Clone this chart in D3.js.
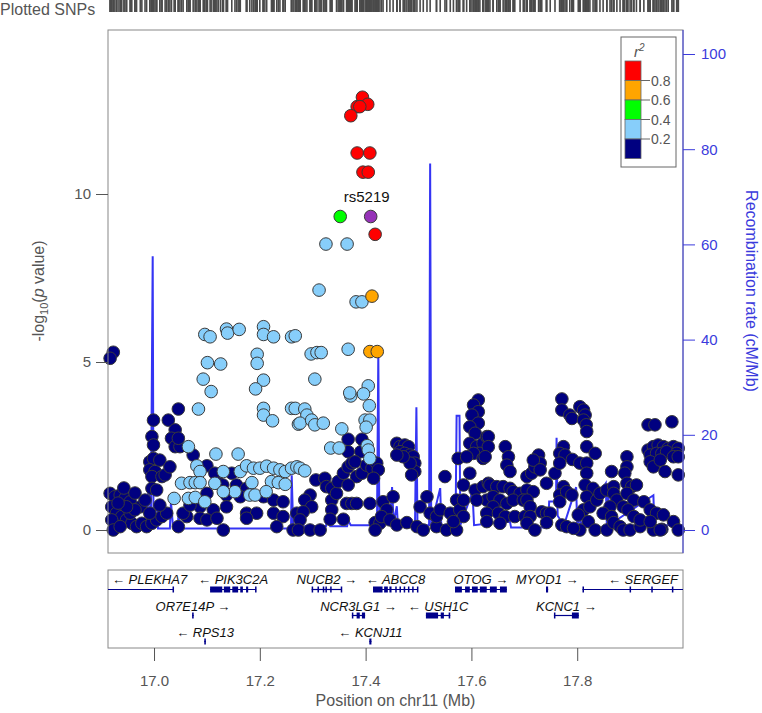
<!DOCTYPE html>
<html>
<head>
<meta charset="utf-8">
<script src="https://cdn.jsdelivr.net/npm/d3@7"></script>
<style>
  body { margin: 0; background: #fff; }
  text { font-family: "Liberation Sans", Arial, sans-serif; }
</style>
</head>
<body>
<svg id="chart" width="762" height="713"></svg>
<script>
// SNPs as [position (Mb), -log10 p], grouped by r2 bin
const snpsIndex = [[17.4096, 9.33]];
const snpsR2_08 = [
  [17.394, 12.88], [17.404, 12.67], [17.384, 12.60], [17.389, 12.60], [17.372, 12.33],
  [17.384, 11.22], [17.408, 11.22], [17.395, 10.65], [17.405, 10.65], [17.418, 8.80]
];
const snpsR2_06 = [[17.412, 6.96], [17.408, 5.31], [17.422, 5.31]];
const snpsR2_04 = [[17.352, 9.33]];
const snpsR2_02 = [
  [17.096, 5.82], [17.106, 5.75], [17.137, 5.98], [17.139, 5.86], [17.161, 5.97],
  [17.207, 6.05], [17.207, 5.82], [17.226, 5.75], [17.260, 5.75], [17.267, 5.78],
  [17.101, 4.98], [17.126, 4.94], [17.195, 5.23], [17.195, 4.96], [17.093, 4.49],
  [17.108, 4.12], [17.207, 4.46], [17.192, 4.20], [17.084, 3.60], [17.207, 3.62],
  [17.207, 3.42], [17.224, 3.25], [17.260, 3.62], [17.267, 3.62], [17.273, 3.15],
  [17.065, 2.48], [17.117, 2.26], [17.159, 2.26], [17.081, 1.91], [17.087, 1.74],
  [17.131, 1.74], [17.163, 1.74], [17.175, 1.91], [17.188, 1.84], [17.200, 1.84],
  [17.213, 1.90], [17.226, 1.84], [17.238, 1.79], [17.248, 1.74], [17.260, 1.84],
  [17.270, 1.88], [17.052, 1.39], [17.068, 1.41], [17.078, 1.41], [17.087, 1.41],
  [17.115, 1.39], [17.153, 1.14], [17.185, 1.41], [17.222, 1.44], [17.235, 1.41],
  [17.248, 1.36], [17.038, 0.94], [17.065, 0.94], [17.078, 0.97], [17.096, 0.84],
  [17.131, 1.14], [17.181, 1.04], [17.191, 1.04], [17.212, 1.14],
  [17.382, 6.79], [17.393, 6.79], [17.297, 5.24], [17.308, 5.28], [17.316, 5.28],
  [17.367, 5.38], [17.304, 4.49], [17.405, 4.29], [17.396, 4.05], [17.372, 3.99],
  [17.370, 4.08], [17.407, 3.70], [17.285, 3.60], [17.289, 3.42], [17.276, 3.18],
  [17.298, 3.27], [17.304, 3.13], [17.320, 3.18], [17.399, 3.27], [17.408, 3.27],
  [17.401, 3.06], [17.355, 3.01], [17.403, 2.51], [17.334, 2.44], [17.350, 2.44],
  [17.405, 2.38], [17.408, 2.13], [17.276, 1.84], [17.285, 1.76],
  [17.325, 8.51], [17.365, 8.51], [17.312, 7.14]
];
const snpsR2_00 = [
  [16.923, 5.29], [16.917, 5.11],
  [16.917, 1.09], [16.926, 0.99], [16.936, 1.04], [16.945, 0.94], [16.955, 0.84],
  [16.974, 0.69], [16.920, 0.69], [16.929, 0.50], [16.939, 0.40], [16.948, 0.30],
  [16.958, 0.20], [16.967, 0.10], [16.977, 0.20], [16.986, 0.10], [16.996, 0.20],
  [17.005, 0.30], [17.015, 0.40], [17.024, 0.50], [16.920, 0.30], [16.923, 0.00],
  [16.936, 0.10], [16.955, 0.50], [16.964, 0.60], [16.948, 0.69], [16.992, 0.50],
  [16.932, 0.80], [16.983, 0.89], [17.011, 0.74], [16.943, 1.25], [16.964, 1.10],
  [16.999, 3.27], [16.996, 2.78], [16.999, 2.53], [16.992, 2.03], [16.999, 2.13],
  [16.992, 1.79], [17.002, 1.74], [16.996, 1.59], [16.996, 1.24], [17.005, 1.19],
  [17.011, 2.08], [17.015, 1.59], [17.021, 1.64], [17.030, 1.88], [17.027, 3.27],
  [17.040, 2.98], [17.033, 2.73], [17.040, 2.48], [17.049, 2.48], [17.046, 2.73],
  [17.046, 3.60], [17.074, 2.23], [17.100, 1.91], [17.115, 1.69], [17.147, 1.69],
  [17.100, 1.09], [17.122, 1.39], [17.130, 1.34], [17.156, 1.34], [17.175, 1.24],
  [17.137, 1.04], [17.163, 0.99], [17.207, 0.99], [17.226, 0.89], [17.244, 0.84],
  [17.087, 0.69], [17.112, 0.60], [17.137, 0.69], [17.175, 0.50], [17.194, 0.50],
  [17.226, 0.50], [17.244, 0.40], [17.270, 0.50], [17.062, 0.40], [17.087, 0.35],
  [17.100, 0.30], [17.119, 0.35], [17.175, 0.35], [17.046, 0.10], [17.131, 0.00],
  [17.232, 0.10], [17.263, 0.00], [17.055, 0.50], [17.068, 0.74],
  [17.367, 2.70], [17.367, 2.33], [17.393, 2.70], [17.391, 2.33], [17.306, 1.49],
  [17.323, 1.54], [17.326, 1.29], [17.336, 1.24], [17.336, 0.89], [17.336, 0.60],
  [17.333, 0.32], [17.345, 1.09], [17.348, 1.44], [17.358, 1.69], [17.367, 1.88],
  [17.374, 1.99], [17.380, 2.03], [17.383, 1.59], [17.393, 1.69], [17.402, 1.93],
  [17.412, 1.84], [17.421, 1.99], [17.424, 1.79], [17.415, 1.54], [17.367, 1.34],
  [17.364, 0.79], [17.374, 0.79], [17.383, 0.79], [17.408, 0.79], [17.358, 0.32],
  [17.295, 1.04], [17.285, 0.89], [17.298, 0.69], [17.282, 0.54], [17.276, 0.30],
  [17.273, 0.00], [17.295, 0.00], [17.314, 0.00], [17.418, 0.22], [17.427, 0.20],
  [17.418, 0.00], [17.433, 0.84], [17.440, 0.60], [17.430, 0.40], [17.452, 0.99],
  [17.446, 0.30], [17.459, 0.15], [17.478, 0.22], [17.497, 0.10], [17.509, 0.00],
  [17.534, 0.10], [17.553, 0.00], [17.572, 0.00], [17.503, 0.69], [17.516, 0.99],
  [17.522, 0.50], [17.534, 0.40], [17.541, 0.60], [17.560, 0.50], [17.572, 0.89],
  [17.578, 0.60], [17.585, 0.40], [17.566, 0.25],
  [17.459, 2.58], [17.465, 2.48], [17.474, 2.53], [17.481, 2.48], [17.465, 2.33],
  [17.474, 2.28], [17.484, 2.23], [17.490, 2.18], [17.493, 1.99], [17.493, 1.74],
  [17.484, 1.99], [17.471, 2.18], [17.459, 2.23], [17.487, 1.64], [17.550, 1.59],
  [17.575, 2.13],
  [17.613, 3.87], [17.604, 3.72], [17.613, 3.52], [17.601, 3.42], [17.613, 3.18],
  [17.597, 3.07], [17.607, 2.88], [17.597, 2.58], [17.610, 2.48], [17.622, 2.58],
  [17.629, 2.78], [17.616, 2.28], [17.604, 2.28], [17.622, 2.13], [17.591, 2.18],
  [17.597, 1.69], [17.585, 1.34], [17.607, 1.19], [17.622, 1.29], [17.629, 0.89],
  [17.610, 0.89], [17.585, 0.89], [17.632, 1.39],
  [17.632, 2.78], [17.632, 2.48], [17.626, 2.18], [17.664, 2.48], [17.670, 2.18],
  [17.667, 1.93], [17.673, 1.74], [17.635, 1.34], [17.648, 1.29], [17.660, 1.29],
  [17.673, 1.24], [17.679, 1.14], [17.692, 1.09], [17.705, 1.19], [17.717, 1.14],
  [17.641, 0.99], [17.654, 0.89], [17.667, 0.79], [17.679, 0.89], [17.698, 0.89],
  [17.641, 0.69], [17.629, 0.50], [17.651, 0.50], [17.664, 0.40], [17.682, 0.40],
  [17.701, 0.40], [17.629, 0.25], [17.654, 0.20], [17.705, 1.59], [17.714, 1.69],
  [17.720, 1.88], [17.727, 2.23], [17.730, 1.99], [17.717, 2.08], [17.730, 1.79],
  [17.742, 1.39], [17.705, 0.89], [17.711, 0.69], [17.711, 0.40], [17.705, 0.20],
  [17.720, 0.00], [17.733, 0.54], [17.742, 0.50], [17.749, 0.50], [17.742, 0.22],
  [17.758, 1.69],
  [17.771, 3.90], [17.771, 3.57], [17.774, 2.48], [17.767, 2.28], [17.777, 2.23],
  [17.767, 1.99], [17.774, 1.29], [17.767, 1.04], [17.767, 0.84], [17.780, 1.14],
  [17.790, 1.04], [17.771, 0.15], [17.780, 0.10], [17.786, 3.42], [17.790, 3.32],
  [17.791, 2.10],
  [17.805, 3.67], [17.812, 3.57], [17.815, 3.42], [17.812, 3.27], [17.817, 3.13],
  [17.818, 2.93], [17.805, 1.99], [17.818, 1.99], [17.818, 2.48], [17.834, 2.28],
  [17.818, 1.69], [17.815, 1.34], [17.830, 1.24], [17.818, 0.99], [17.812, 0.60],
  [17.824, 0.69], [17.837, 0.89], [17.802, 0.45], [17.821, 0.25], [17.834, 0.00],
  [17.856, 0.00], [17.805, 0.00], [17.793, 0.05], [17.843, 1.09], [17.856, 1.19],
  [17.869, 1.29], [17.869, 1.09], [17.875, 0.89], [17.862, 0.69], [17.849, 0.50],
  [17.865, 0.40], [17.869, 0.22], [17.881, 0.10], [17.887, 0.00], [17.900, 0.00],
  [17.919, 0.10], [17.944, 0.00], [17.960, 0.02], [17.865, 1.74],
  [17.894, 2.18], [17.894, 1.88], [17.890, 1.69], [17.894, 1.39], [17.903, 1.29],
  [17.912, 1.34], [17.894, 1.09], [17.907, 0.89], [17.926, 0.84], [17.887, 0.69],
  [17.896, 0.60], [17.907, 0.40], [17.919, 0.30], [17.938, 0.60], [17.950, 0.50],
  [17.963, 0.45], [17.938, 0.25], [17.957, 0.00], [17.982, 0.25], [17.991, 0.00],
  [17.934, 3.13], [17.947, 3.13], [17.979, 3.22], [17.934, 2.38], [17.944, 2.48],
  [17.953, 2.53], [17.963, 2.48], [17.972, 2.43], [17.982, 2.48], [17.991, 2.43],
  [17.938, 2.23], [17.950, 2.28], [17.960, 2.28], [17.969, 2.33], [17.988, 2.28],
  [17.938, 2.03], [17.944, 1.88], [17.957, 2.08], [17.982, 2.18], [17.991, 2.18],
  [17.966, 1.74], [17.991, 1.64]
];

// recombination rate (cM/Mb)
const recombPos = [16.913, 16.955, 16.987, 16.989, 16.992, 16.994, 16.9975, 16.999, 17.005, 17.0075,
  17.030, 17.032, 17.036, 17.045, 17.046, 17.050, 17.259, 17.2603, 17.263, 17.325, 17.327, 17.333,
  17.365, 17.367, 17.372, 17.4215, 17.424, 17.426, 17.446, 17.450, 17.453, 17.459, 17.461, 17.4934,
  17.496, 17.498, 17.520, 17.522, 17.524, 17.541, 17.543, 17.570, 17.572, 17.5775, 17.579, 17.602,
  17.605, 17.654, 17.673, 17.675, 17.745, 17.747, 17.760, 17.761, 17.763, 17.775, 17.798, 17.800,
  17.805, 17.806, 17.854, 17.856, 17.859, 17.860, 17.944, 17.946, 18.0];
const recombRate = [0.5, 0.8, 1.0, 8, 8, 1, 57.5, 2, 6, 0.3,
  0.3, 6, 0.5, 0.5, 3, 0.3, 0.3, 11.5, 0.8, 0.8, 2, 0.8,
  0.8, 2, 1, 1, 37, 1.5, 1.5, 9, 1.5, 5, 1, 1,
  25.8, 1, 1, 77, 1, 8.8, 1, 1, 24, 24, 1, 8,
  1, 1.7, 1.7, 0.5, 0.5, 6, 6, 19.4, 3, 1, 9, 1,
  3, 1, 9.8, 1, 9.8, 1, 7.3, 1, 1];

// genes
const geneNames  = ["PLEKHA7", "PIK3C2A", "NUCB2", "ABCC8", "OTOG", "MYOD1", "SERGEF",
                    "OR7E14P", "NCR3LG1", "USH1C", "KCNC1", "RPS13", "KCNJ11"];
const geneStart  = [16.80, 17.106, 17.298, 17.414, 17.569, 17.741, 17.810,
                    17.072, 17.374, 17.514, 17.756, 17.095, 17.407];
const geneEnd    = [17.036, 17.193, 17.355, 17.499, 17.667, 17.745, 18.10,
                    17.075, 17.399, 17.560, 17.803, 17.098, 17.411];
const geneStrand = ["-", "-", "+", "-", "+", "+", "-", "+", "+", "-", "+", "-", "-"];
const geneRow    = [0, 0, 0, 0, 0, 0, 0, 1, 1, 1, 1, 2, 2];
const geneExons  = [
  [[17.035, 17.037]],
  [[17.106, 17.129], [17.132, 17.144], [17.148, 17.159], [17.163, 17.168], [17.174, 17.178], [17.191, 17.193]],
  [[17.298, 17.300], [17.309, 17.311], [17.319, 17.321], [17.324, 17.326], [17.333, 17.335], [17.353, 17.355]],
  [[17.414, 17.432], [17.435, 17.442], [17.445, 17.449], [17.456, 17.458], [17.464, 17.466],
   [17.472, 17.474], [17.480, 17.482], [17.488, 17.490], [17.497, 17.499]],
  [[17.569, 17.582], [17.588, 17.597], [17.601, 17.612], [17.616, 17.629], [17.635, 17.648], [17.654, 17.667]],
  [[17.741, 17.745]],
  [[17.810, 17.812], [17.899, 17.901], [17.940, 17.942], [17.979, 17.981]],
  [[17.072, 17.075]],
  [[17.374, 17.376], [17.383, 17.389], [17.393, 17.399]],
  [[17.514, 17.537], [17.542, 17.548], [17.557, 17.560]],
  [[17.756, 17.758], [17.790, 17.803]],
  [[17.095, 17.098]],
  [[17.407, 17.411]]
];

const indexLabel = "rs5219";
const xTicks = [17.0, 17.2, 17.4, 17.6, 17.8];
const yTicks = [0, 5, 10];
const recombTicks = [0, 20, 40, 60, 80, 100];
const ldBreaks = ["0.8", "0.6", "0.4", "0.2"];
const ldColors = ["#ff0000", "#ffa500", "#00ff00", "#87cefa", "#000080"];

const svg = d3.select("#chart");
const pLeft = 108, pRight = 683, pTop = 30, pBottom = 553;
const gTop = 570, gBottom = 648;
const blue = "#3b3bdc";
const grey = "#555";

const x = d3.scaleLinear().domain([16.913, 18.0]).range([pLeft, pRight]);
const y = d3.scaleLinear().domain([0, 10]).range([530, 194]);
const yR = d3.scaleLinear().domain([0, 100]).range([530, 54]);

const defs = svg.append("defs");
defs.append("clipPath").attr("id", "plotClip")
  .append("rect").attr("x", pLeft).attr("y", pTop).attr("width", pRight - pLeft).attr("height", pBottom - pTop);
defs.append("clipPath").attr("id", "geneClip")
  .append("rect").attr("x", pLeft).attr("y", gTop).attr("width", pRight - pLeft).attr("height", gBottom - gTop);

// plotted SNPs strip
const allSnps = [].concat(snpsR2_00, snpsR2_02, snpsR2_04, snpsR2_06, snpsR2_08, snpsIndex);
svg.append("text").attr("x", 0).attr("y", 15).attr("font-size", 16).attr("fill", grey).text("Plotted SNPs");
svg.append("g").selectAll("line").data(allSnps).enter().append("line")
  .attr("x1", d => x(d[0])).attr("x2", d => x(d[0]))
  .attr("y1", 0).attr("y2", 12)
  .attr("stroke", "#4a4a4a").attr("stroke-width", 1.6);

// recombination line
const recomb = recombPos.map((p, i) => [p, recombRate[i]]);
svg.append("path").datum(recomb)
  .attr("clip-path", "url(#plotClip)")
  .attr("fill", "none").attr("stroke", "#3434f4").attr("stroke-width", 2)
  .attr("d", d3.line().x(d => x(d[0])).y(d => yR(d[1])));

// points
function drawPoints(data, color) {
  svg.append("g").selectAll("circle").data(data).enter().append("circle")
    .attr("cx", d => x(d[0])).attr("cy", d => y(d[1])).attr("r", 6.3)
    .attr("fill", color).attr("stroke", "#3a3a3a").attr("stroke-width", 1);
}
drawPoints(snpsR2_00, ldColors[4]);
drawPoints(snpsR2_02, ldColors[3]);
drawPoints(snpsR2_04, ldColors[2]);
drawPoints(snpsR2_06, ldColors[1]);
drawPoints(snpsR2_08, ldColors[0]);
drawPoints(snpsIndex, "#9632b8");
svg.append("text").attr("x", x(snpsIndex[0][0]) - 4).attr("y", y(snpsIndex[0][1]) - 15)
  .attr("text-anchor", "middle").attr("font-size", 15).attr("fill", "#111").text(indexLabel);

// plot frame
svg.append("rect").attr("x", pLeft).attr("y", pTop).attr("width", pRight - pLeft).attr("height", pBottom - pTop)
  .attr("fill", "none").attr("stroke", "#888").attr("stroke-width", 1);

// left axis
const yAxis = svg.append("g").attr("transform", `translate(${pLeft},0)`)
  .call(d3.axisLeft(y).tickValues(yTicks).tickSize(12).tickPadding(5));
yAxis.select(".domain").remove();
yAxis.selectAll("line").attr("stroke", "#555");
yAxis.selectAll("text").attr("font-size", 15).attr("fill", grey).attr("font-family", "Liberation Sans, Arial, sans-serif");

const yTitle = svg.append("text").attr("transform", "translate(44,291) rotate(-90)")
  .attr("text-anchor", "middle").attr("font-size", 16).attr("fill", grey);
yTitle.append("tspan").text("-log");
yTitle.append("tspan").attr("font-size", 11).attr("dy", 4).text("10");
yTitle.append("tspan").attr("dy", -4).text("(");
yTitle.append("tspan").attr("font-style", "italic").text("p");
yTitle.append("tspan").text(" value)");

// right axis
const rAxis = svg.append("g").attr("transform", `translate(${pRight},0)`)
  .call(d3.axisRight(yR).tickValues(recombTicks).tickSize(12).tickPadding(6));
rAxis.select(".domain").attr("stroke", blue).attr("d", `M0,${pTop}V${pBottom}`);
rAxis.selectAll("line").attr("stroke", blue);
rAxis.selectAll("text").attr("font-size", 15).attr("fill", blue).attr("font-family", "Liberation Sans, Arial, sans-serif");
svg.append("text").attr("transform", "translate(746,291) rotate(90)")
  .attr("text-anchor", "middle").attr("font-size", 16).attr("fill", blue)
  .text("Recombination rate (cM/Mb)");

// legend
const lg = svg.append("g");
lg.append("rect").attr("x", 621).attr("y", 37).attr("width", 55).attr("height", 130)
  .attr("fill", "#fff").attr("stroke", "#666");
const r2t = lg.append("text").attr("x", 634).attr("y", 57).attr("font-size", 15).attr("fill", grey)
  .attr("font-style", "italic");
r2t.append("tspan").text("r");
r2t.append("tspan").attr("font-size", 10).attr("dy", -6).text("2");
const legY = d3.scaleLinear().domain([0, 5]).range([61, 158.5]);
lg.selectAll("rect.sw").data(ldColors).enter().append("rect").attr("class", "sw")
  .attr("x", 625).attr("y", (d, i) => legY(i)).attr("width", 16).attr("height", legY(1) - legY(0))
  .attr("fill", d => d).attr("stroke", "#666").attr("stroke-width", 0.8);
lg.selectAll("line.lt").data(ldBreaks).enter().append("line").attr("class", "lt")
  .attr("x1", 641).attr("x2", 650).attr("y1", (d, i) => legY(i + 1)).attr("y2", (d, i) => legY(i + 1))
  .attr("stroke", "#666");
lg.selectAll("text.ll").data(ldBreaks).enter().append("text").attr("class", "ll")
  .attr("x", 651).attr("y", (d, i) => legY(i + 1) + 5).attr("font-size", 14).attr("fill", grey).text(d => d);

// gene panel
svg.append("rect").attr("x", pLeft).attr("y", gTop).attr("width", pRight - pLeft).attr("height", gBottom - gTop)
  .attr("fill", "none").attr("stroke", "#888");
const geneColor = "#00008b";
const rowLabelY = [584, 610.5, 637];
const rowGeneY = [589.5, 615.5, 641.5];
const genes = geneNames.map((n, i) => ({
  name: n, start: geneStart[i], end: geneEnd[i], strand: geneStrand[i], row: geneRow[i], exons: geneExons[i]
}));
const gg = svg.append("g").attr("clip-path", "url(#geneClip)");
genes.forEach(g => {
  const gy = rowGeneY[g.row];
  gg.append("line").attr("x1", x(g.start)).attr("x2", x(g.end)).attr("y1", gy).attr("y2", gy)
    .attr("stroke", geneColor).attr("stroke-width", 1.2);
  g.exons.forEach(e => {
    gg.append("rect").attr("x", x(e[0])).attr("y", gy - 3)
      .attr("width", Math.max(1.5, x(e[1]) - x(e[0]))).attr("height", 6).attr("fill", geneColor);
  });
});
genes.forEach(g => {
  const label = g.strand === "+" ? g.name + " \u2192" : "\u2190 " + g.name;
  const t = svg.append("text").attr("y", rowLabelY[g.row]).attr("font-size", 13)
    .attr("font-style", "italic").attr("fill", "#111").attr("text-anchor", "middle").text(label);
  const w = t.node().getComputedTextLength();
  let cx = (x(g.start) + x(g.end)) / 2;
  cx = Math.max(pLeft + 4 + w / 2, Math.min(pRight - 5 - w / 2, cx));
  t.attr("x", cx);
});

// x axis
const xAxis = svg.append("g").attr("transform", `translate(0,${gBottom})`)
  .call(d3.axisBottom(x).tickValues(xTicks).tickSize(13).tickPadding(14).tickFormat(d3.format(".1f")));
xAxis.select(".domain").remove();
xAxis.selectAll("line").attr("stroke", "#555");
xAxis.selectAll("text").attr("font-size", 15).attr("fill", grey).attr("font-family", "Liberation Sans, Arial, sans-serif");
svg.append("text").attr("x", (pLeft + pRight) / 2).attr("y", 706).attr("text-anchor", "middle")
  .attr("font-size", 16).attr("fill", grey).text("Position on chr11 (Mb)");
</script>
</body>
</html>
